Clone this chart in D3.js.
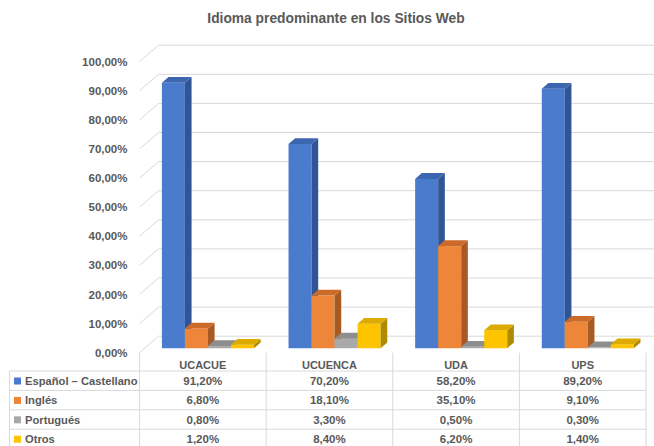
<!DOCTYPE html>
<html>
<head>
<meta charset="utf-8">
<script src="https://cdn.jsdelivr.net/npm/d3@7"></script>
<style>
  body { margin: 0; background: #fff; }
  svg { display: block; }
  text { font-family: "Liberation Sans", Arial, sans-serif; font-weight: bold; fill: #595959; }
</style>
</head>
<body>
<div id="chart"></div>
<script>
const categories = ["UCACUE", "UCUENCA", "UDA", "UPS"];
const seriesNames = ["Español – Castellano", "Inglés", "Portugués", "Otros"];
const espanol = [91.2, 70.2, 58.2, 89.2];
const ingles = [6.8, 18.1, 35.1, 9.1];
const portugues = [0.8, 3.3, 0.5, 0.3];
const otros = [1.2, 8.4, 6.2, 1.4];
const yTicks = [0, 10, 20, 30, 40, 50, 60, 70, 80, 90, 100];

const seriesValues = [espanol, ingles, portugues, otros];
// front, right side, top
const faceColors = [
    ["#4a7bcc", "#2f5597", "#3c66b0"],
    ["#ee8639", "#a85a24", "#cc6a2a"],
    ["#a9a9a9", "#7b7b7b", "#8e8e8e"],
    ["#ffc400", "#b08a00", "#dcaa00"]
];

const width = 654, height = 446;
const svg = d3.select("#chart").append("svg")
    .attr("width", width)
    .attr("height", height);

const loc = d3.formatLocale({decimal: ",", thousands: ".", grouping: [3], currency: ["", "€"]});
const pct = v => loc.format(".2f")(v) + "%";

// oblique 3D: depth t (0 = front, 1 = back wall)
const DX = 19, DY = 16.5;
const barT0 = 0.27, barT1 = 0.62;

const x = d3.scaleBand().domain(categories).range([139.5, 646]);
const x1 = d3.scaleBand().domain(seriesNames).range([0, x.bandwidth()]).paddingOuter(0.75);
const y = d3.scaleLinear().domain([0, 100]).range([352.7, 61.7]);

// title
svg.append("text")
    .attr("x", 336).attr("y", 18)
    .attr("dominant-baseline", "central")
    .attr("text-anchor", "middle")
    .style("font-size", "13.8px")
    .text("Idioma predominante en los Sitios Web");

// walls: left diagonals + back gridlines
const grid = svg.append("g").attr("stroke", "#d9d9d9").attr("stroke-width", 1).attr("fill", "none");
const xL = x.range()[0], xR = x.range()[1];
yTicks.forEach(t => {
    grid.append("line")
        .attr("x1", xL).attr("y1", y(t))
        .attr("x2", xL + DX).attr("y2", y(t) - DY);
    grid.append("line")
        .attr("x1", xL + DX).attr("y1", y(t) - DY)
        .attr("x2", xR + DX).attr("y2", y(t) - DY);
});

// axis labels
svg.append("g").selectAll("text").data(yTicks).join("text")
    .attr("x", 127.5).attr("y", d => y(d))
    .attr("text-anchor", "end")
    .attr("dominant-baseline", "central")
    .style("font-size", "11.5px")
    .text(d => pct(d));

// bars
const bars = svg.append("g");
categories.forEach((cat, ci) => {
    seriesNames.forEach((s, si) => {
        const v = seriesValues[si][ci];
        const bx = x(cat) + x1(s), w = x1.bandwidth();
        const ax = DX * barT0, ay = DY * barT0;
        const bxd = DX * barT1, byd = DY * barT1;
        const yt = y(v), yb = y(0);
        const c = faceColors[si];
        bars.append("rect")
            .attr("x", bx + ax).attr("y", yt - ay)
            .attr("width", w).attr("height", yb - yt)
            .attr("fill", c[0]);
        bars.append("polygon")
            .attr("points", [[bx + w + ax, yt - ay], [bx + w + bxd, yt - byd], [bx + w + bxd, yb - byd], [bx + w + ax, yb - ay]].join(" "))
            .attr("fill", c[1]);
        bars.append("polygon")
            .attr("points", [[bx + ax, yt - ay], [bx + bxd, yt - byd], [bx + w + bxd, yt - byd], [bx + w + ax, yt - ay]].join(" "))
            .attr("fill", c[2]);
    });
});

// data table
const tableTop = y(0), headBottom = 371, rowH = 19.4, tableLeft = 9.5;
const tableBottom = headBottom + rowH * seriesNames.length + 2;
const tbl = svg.append("g");
const tl = tbl.append("g").attr("stroke", "#d9d9d9").attr("stroke-width", 1);
const colEdges = categories.map(c => x(c)).concat([xR]);
colEdges.forEach(cx => {
    tl.append("line").attr("x1", cx).attr("x2", cx).attr("y1", tableTop).attr("y2", tableBottom);
});
tl.append("line").attr("x1", tableLeft).attr("x2", tableLeft).attr("y1", headBottom).attr("y2", tableBottom);
seriesNames.forEach((s, i) => {
    tl.append("line").attr("x1", tableLeft).attr("x2", xR)
        .attr("y1", headBottom + i * rowH).attr("y2", headBottom + i * rowH);
});

tbl.selectAll("text.head").data(categories).join("text")
    .attr("class", "head")
    .attr("x", d => x(d) + x.bandwidth() / 2)
    .attr("y", 365)
    .attr("text-anchor", "middle")
    .attr("dominant-baseline", "central")
    .style("font-size", "11px")
    .text(d => d);

seriesNames.forEach((s, si) => {
    const cy = headBottom + si * rowH + rowH / 2 + 0.3;
    tbl.append("rect")
        .attr("x", 14).attr("y", cy - 3.5)
        .attr("width", 7).attr("height", 7)
        .attr("fill", faceColors[si][0]);
    tbl.append("text")
        .attr("x", 25).attr("y", cy)
        .attr("dominant-baseline", "central")
        .style("font-size", "11.2px")
        .text(s);
    tbl.append("g").selectAll("text").data(seriesValues[si]).join("text")
        .attr("x", (d, i) => x(categories[i]) + x.bandwidth() / 2)
        .attr("y", cy)
        .attr("text-anchor", "middle")
        .attr("dominant-baseline", "central")
        .style("font-size", "11.5px")
        .text(d => pct(d));
});
</script>
</body>
</html>
